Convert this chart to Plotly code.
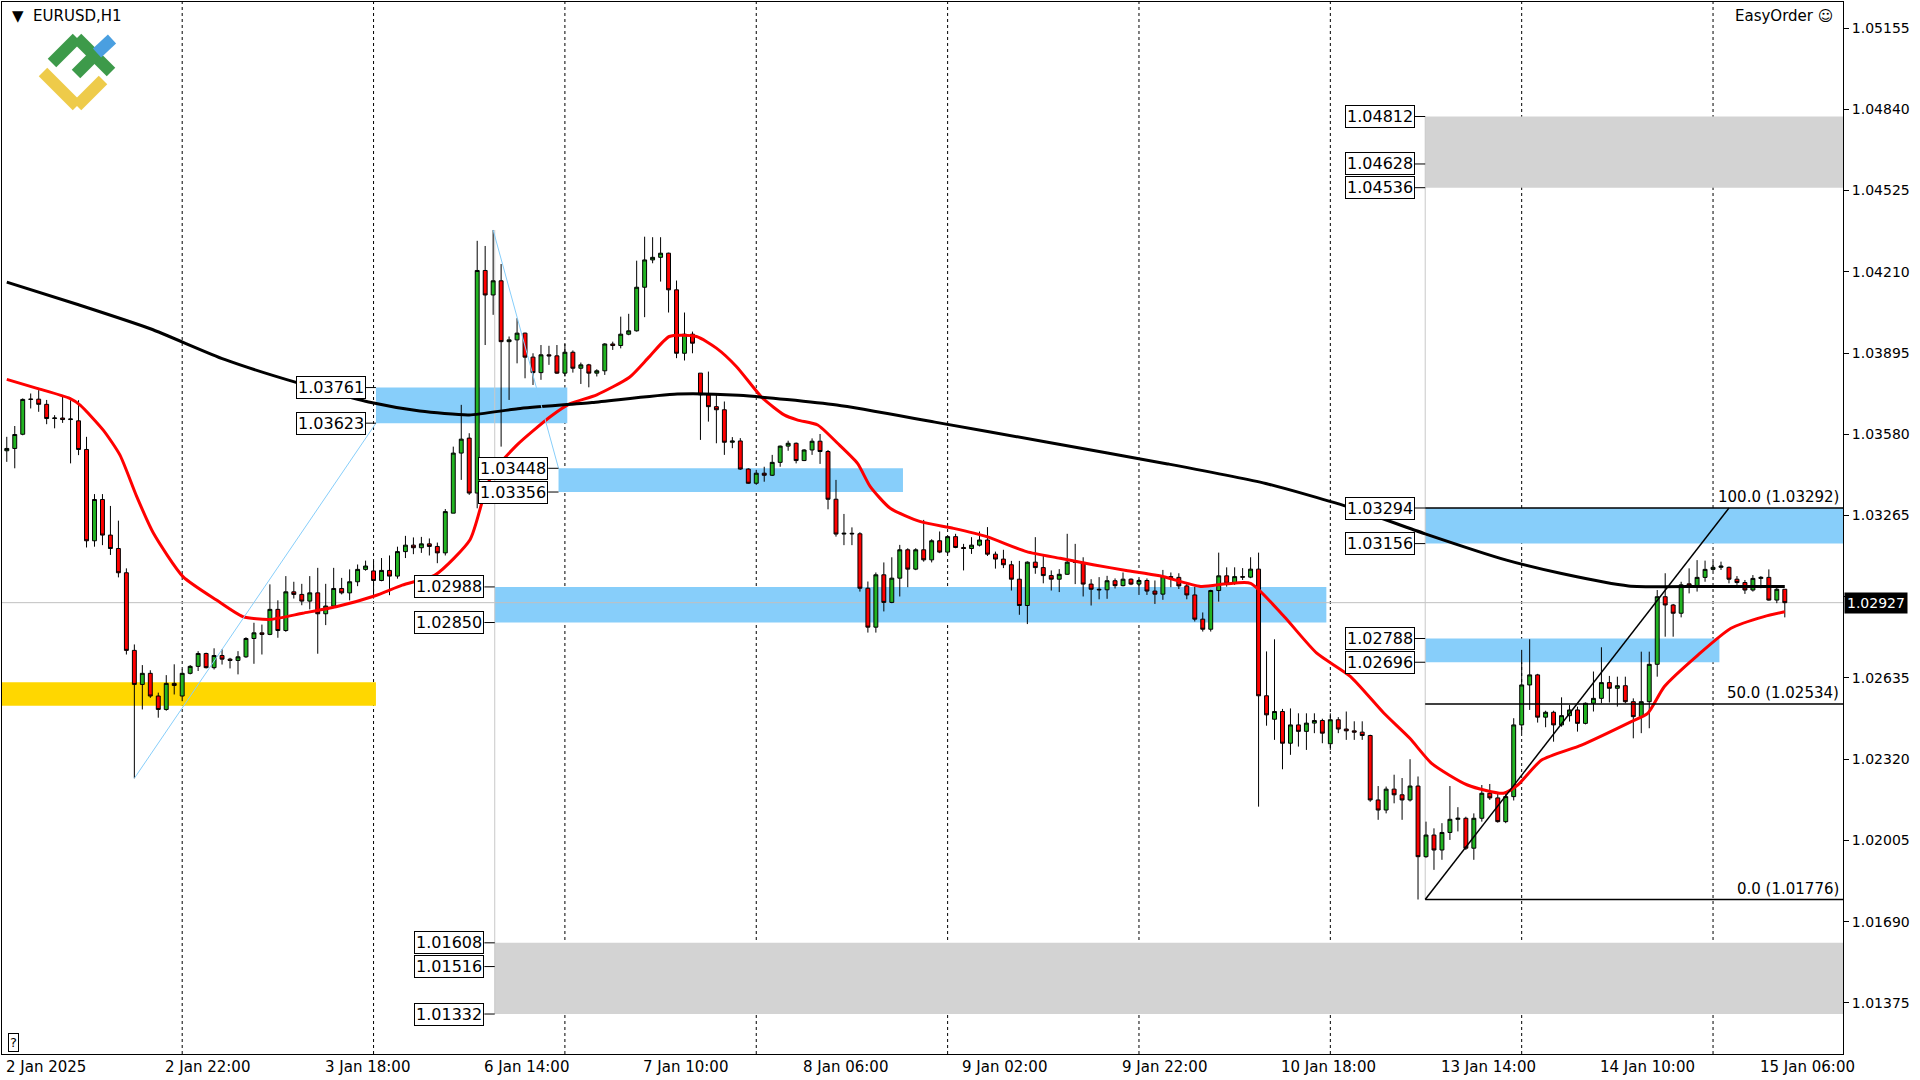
import plotly.graph_objects as go

# ---- candles (EURUSD H1), one row per bar: open, high, low, close
ohlc = [
    (1.03516, 1.03570, 1.03473, 1.03525), (1.03525, 1.03612, 1.03448, 1.03579),
    (1.03580, 1.03719, 1.03576, 1.03715), (1.03715, 1.03738, 1.03680, 1.03716),
    (1.03716, 1.03751, 1.03667, 1.03696), (1.03696, 1.03713, 1.03619, 1.03641),
    (1.03641, 1.03654, 1.03603, 1.03643), (1.03643, 1.03725, 1.03624, 1.03637),
    (1.03637, 1.03712, 1.03467, 1.03639), (1.03632, 1.03712, 1.03499, 1.03521),
    (1.03521, 1.03570, 1.03141, 1.03167), (1.03167, 1.03348, 1.03144, 1.03327),
    (1.03327, 1.03348, 1.03150, 1.03189), (1.03189, 1.03302, 1.03112, 1.03137),
    (1.03137, 1.03245, 1.03025, 1.03043), (1.03043, 1.03060, 1.02726, 1.02742),
    (1.02742, 1.02765, 1.02246, 1.02610), (1.02610, 1.02685, 1.02513, 1.02653),
    (1.02653, 1.02665, 1.02558, 1.02565), (1.02565, 1.02578, 1.02481, 1.02513),
    (1.02513, 1.02646, 1.02508, 1.02614), (1.02614, 1.02688, 1.02571, 1.02606),
    (1.02565, 1.02668, 1.02545, 1.02653), (1.02653, 1.02685, 1.02649, 1.02680),
    (1.02680, 1.02739, 1.02662, 1.02730), (1.02730, 1.02733, 1.02672, 1.02675),
    (1.02675, 1.02750, 1.02668, 1.02722), (1.02722, 1.02746, 1.02687, 1.02708),
    (1.02708, 1.02713, 1.02672, 1.02703), (1.02703, 1.02739, 1.02649, 1.02717),
    (1.02717, 1.02793, 1.02713, 1.02788), (1.02788, 1.02849, 1.02690, 1.02810),
    (1.02810, 1.02842, 1.02726, 1.02804), (1.02804, 1.02998, 1.02801, 1.02901),
    (1.02901, 1.02936, 1.02791, 1.02819), (1.02819, 1.03030, 1.02814, 1.02969),
    (1.02969, 1.03008, 1.02943, 1.02959), (1.02959, 1.03000, 1.02917, 1.02933),
    (1.02933, 1.03030, 1.02901, 1.02965), (1.02965, 1.03062, 1.02729, 1.02884),
    (1.02884, 1.03000, 1.02840, 1.02914), (1.02914, 1.03062, 1.02907, 1.02982),
    (1.02982, 1.03023, 1.02959, 1.02965), (1.02965, 1.03056, 1.02936, 1.03008),
    (1.03008, 1.03075, 1.02991, 1.03056), (1.03056, 1.03090, 1.03051, 1.03069),
    (1.03050, 1.03088, 1.02943, 1.03013), (1.03013, 1.03100, 1.03010, 1.03052),
    (1.03052, 1.03110, 1.02956, 1.03030), (1.03030, 1.03144, 1.03020, 1.03125),
    (1.03125, 1.03186, 1.03100, 1.03150), (1.03150, 1.03180, 1.03115, 1.03140),
    (1.03140, 1.03182, 1.03120, 1.03155), (1.03155, 1.03176, 1.03110, 1.03145),
    (1.03145, 1.03160, 1.03080, 1.03120), (1.03120, 1.03290, 1.03110, 1.03280),
    (1.03274, 1.03532, 1.03274, 1.03507), (1.03507, 1.03694, 1.03403, 1.03561),
    (1.03565, 1.03584, 1.03345, 1.03352), (1.03352, 1.04330, 1.03293, 1.04215),
    (1.04215, 1.04310, 1.03926, 1.04120), (1.04120, 1.04372, 1.04043, 1.04175),
    (1.04175, 1.04240, 1.03532, 1.03939), (1.03939, 1.03959, 1.03713, 1.03946),
    (1.03946, 1.04030, 1.03855, 1.03972), (1.03972, 1.03974, 1.03797, 1.03879),
    (1.03879, 1.03894, 1.03771, 1.03819), (1.03819, 1.03926, 1.03791, 1.03888),
    (1.03888, 1.03923, 1.03849, 1.03884), (1.03884, 1.03926, 1.03814, 1.03817),
    (1.03817, 1.03930, 1.03804, 1.03898), (1.03898, 1.03905, 1.03819, 1.03836),
    (1.03836, 1.03858, 1.03775, 1.03849), (1.03849, 1.03853, 1.03762, 1.03817),
    (1.03817, 1.03832, 1.03804, 1.03826), (1.03826, 1.03933, 1.03810, 1.03930),
    (1.03930, 1.03939, 1.03907, 1.03924), (1.03924, 1.04036, 1.03913, 1.03968),
    (1.03968, 1.04047, 1.03964, 1.03981), (1.03981, 1.04253, 1.03978, 1.04150),
    (1.04150, 1.04346, 1.04034, 1.04256), (1.04256, 1.04344, 1.04243, 1.04266),
    (1.04266, 1.04344, 1.04172, 1.04282), (1.04282, 1.04284, 1.04052, 1.04140),
    (1.04140, 1.04176, 1.03875, 1.03894), (1.03894, 1.04052, 1.03866, 1.03968),
    (1.03968, 1.03978, 1.03894, 1.03933), (1.03817, 1.03817, 1.03558, 1.03733),
    (1.03733, 1.03823, 1.03629, 1.03687), (1.03687, 1.03733, 1.03545, 1.03675),
    (1.03675, 1.03707, 1.03500, 1.03549), (1.03549, 1.03569, 1.03526, 1.03554),
    (1.03554, 1.03565, 1.03442, 1.03445), (1.03445, 1.03448, 1.03388, 1.03390),
    (1.03390, 1.03442, 1.03384, 1.03429), (1.03429, 1.03454, 1.03396, 1.03421),
    (1.03421, 1.03500, 1.03418, 1.03471), (1.03471, 1.03536, 1.03454, 1.03534),
    (1.03534, 1.03555, 1.03516, 1.03545), (1.03545, 1.03548, 1.03467, 1.03478),
    (1.03478, 1.03522, 1.03476, 1.03519), (1.03519, 1.03564, 1.03500, 1.03553),
    (1.03553, 1.03581, 1.03465, 1.03513), (1.03513, 1.03519, 1.03289, 1.03328),
    (1.03328, 1.03403, 1.03183, 1.03193), (1.03193, 1.03271, 1.03150, 1.03196),
    (1.03196, 1.03219, 1.03150, 1.03194), (1.03194, 1.03200, 1.02970, 1.02983),
    (1.02983, 1.03009, 1.02811, 1.02832), (1.02832, 1.03044, 1.02811, 1.03035),
    (1.03035, 1.03083, 1.02893, 1.02928), (1.02928, 1.03103, 1.02925, 1.03022),
    (1.03022, 1.03151, 1.02951, 1.03132), (1.03132, 1.03138, 1.02987, 1.03057),
    (1.03057, 1.03138, 1.03053, 1.03132), (1.03132, 1.03248, 1.03086, 1.03093),
    (1.03093, 1.03173, 1.03083, 1.03167), (1.03167, 1.03203, 1.03119, 1.03123),
    (1.03123, 1.03186, 1.03116, 1.03183), (1.03183, 1.03194, 1.03138, 1.03141),
    (1.03141, 1.03155, 1.03052, 1.03137), (1.03137, 1.03181, 1.03116, 1.03150),
    (1.03150, 1.03203, 1.03145, 1.03170), (1.03170, 1.03220, 1.03108, 1.03115),
    (1.03115, 1.03125, 1.03059, 1.03096), (1.03096, 1.03132, 1.03061, 1.03074),
    (1.03074, 1.03089, 1.02974, 1.03018), (1.03018, 1.03089, 1.02880, 1.02916),
    (1.02916, 1.03087, 1.02844, 1.03084), (1.03084, 1.03181, 1.03039, 1.03063),
    (1.03063, 1.03112, 1.03002, 1.03032), (1.03032, 1.03052, 1.02974, 1.03018),
    (1.03018, 1.03057, 1.02968, 1.03037), (1.03037, 1.03194, 1.03035, 1.03084),
    (1.03084, 1.03155, 1.02999, 1.03083), (1.03083, 1.03103, 1.02951, 1.02999),
    (1.02999, 1.03018, 1.02916, 1.02979), (1.02979, 1.03026, 1.02940, 1.02977),
    (1.02977, 1.03031, 1.02942, 1.03012), (1.03012, 1.03021, 1.02982, 1.02993),
    (1.02993, 1.03044, 1.02990, 1.03018), (1.03018, 1.03021, 1.02995, 1.02999),
    (1.02999, 1.03018, 1.02957, 1.03013), (1.03013, 1.03021, 1.02957, 1.02972),
    (1.02972, 1.03013, 1.02922, 1.02960), (1.02960, 1.03054, 1.02938, 1.03028),
    (1.03028, 1.03044, 1.02987, 1.03025), (1.03025, 1.03041, 1.02980, 1.02992),
    (1.02992, 1.03002, 1.02940, 1.02957), (1.02957, 1.02989, 1.02854, 1.02863),
    (1.02863, 1.02889, 1.02815, 1.02824), (1.02824, 1.02977, 1.02815, 1.02974),
    (1.02974, 1.03121, 1.02931, 1.03031), (1.03031, 1.03064, 1.02989, 1.03002),
    (1.03002, 1.03064, 1.02996, 1.03028), (1.03028, 1.03061, 1.03015, 1.03026),
    (1.03026, 1.03103, 1.03022, 1.03057), (1.03057, 1.03121, 1.02136, 1.02566),
    (1.02566, 1.02738, 1.02450, 1.02492), (1.02475, 1.02785, 1.02395, 1.02505),
    (1.02505, 1.02515, 1.02281, 1.02382), (1.02382, 1.02517, 1.02337, 1.02453),
    (1.02453, 1.02498, 1.02369, 1.02428), (1.02428, 1.02498, 1.02356, 1.02460),
    (1.02460, 1.02498, 1.02421, 1.02470), (1.02470, 1.02477, 1.02382, 1.02421),
    (1.02380, 1.02498, 1.02356, 1.02473), (1.02473, 1.02483, 1.02421, 1.02437),
    (1.02437, 1.02505, 1.02395, 1.02430), (1.02430, 1.02467, 1.02395, 1.02425),
    (1.02425, 1.02467, 1.02395, 1.02412), (1.02412, 1.02415, 1.02155, 1.02162),
    (1.02162, 1.02216, 1.02085, 1.02123), (1.02123, 1.02214, 1.02110, 1.02204),
    (1.02204, 1.02260, 1.02149, 1.02182), (1.02182, 1.02247, 1.02085, 1.02162),
    (1.02162, 1.02320, 1.02156, 1.02216), (1.02216, 1.02253, 1.01776, 1.01942),
    (1.01942, 1.02078, 1.01938, 1.02026), (1.02026, 1.02052, 1.01891, 1.01968),
    (1.01968, 1.02072, 1.01930, 1.02036), (1.02036, 1.02216, 1.02007, 1.02087),
    (1.02087, 1.02134, 1.02040, 1.02091), (1.02091, 1.02097, 1.01968, 1.01975),
    (1.01975, 1.02110, 1.01930, 1.02091), (1.02091, 1.02220, 1.02078, 1.02188),
    (1.02188, 1.02224, 1.02162, 1.02170), (1.02170, 1.02188, 1.02074, 1.02078),
    (1.02078, 1.02195, 1.02072, 1.02175), (1.02175, 1.02479, 1.02160, 1.02453),
    (1.02453, 1.02744, 1.02421, 1.02608), (1.02608, 1.02785, 1.02511, 1.02647),
    (1.02647, 1.02651, 1.02462, 1.02483), (1.02483, 1.02508, 1.02444, 1.02502),
    (1.02502, 1.02508, 1.02388, 1.02453), (1.02453, 1.02560, 1.02446, 1.02489),
    (1.02489, 1.02530, 1.02466, 1.02511), (1.02511, 1.02524, 1.02427, 1.02459),
    (1.02459, 1.02540, 1.02455, 1.02537), (1.02537, 1.02660, 1.02505, 1.02556),
    (1.02556, 1.02754, 1.02537, 1.02617), (1.02617, 1.02643, 1.02540, 1.02595),
    (1.02595, 1.02640, 1.02524, 1.02605), (1.02605, 1.02640, 1.02537, 1.02543),
    (1.02543, 1.02556, 1.02401, 1.02485), (1.02485, 1.02737, 1.02421, 1.02543),
    (1.02543, 1.02737, 1.02440, 1.02688), (1.02688, 1.02976, 1.02640, 1.02950),
    (1.02950, 1.03041, 1.02795, 1.02918), (1.02918, 1.02922, 1.02795, 1.02886),
    (1.02886, 1.03008, 1.02870, 1.02996), (1.03000, 1.03060, 1.02963, 1.02992),
    (1.02992, 1.03092, 1.02970, 1.03025), (1.03025, 1.03090, 1.03008, 1.03056),
    (1.03056, 1.03086, 1.03050, 1.03064), (1.03064, 1.03086, 1.03054, 1.03069),
    (1.03064, 1.03067, 1.03002, 1.03018), (1.03018, 1.03030, 1.02996, 1.03005),
    (1.03005, 1.03015, 1.02961, 1.02976), (1.02976, 1.03034, 1.02970, 1.03021),
    (1.03021, 1.03030, 1.02983, 1.03025), (1.03025, 1.03056, 1.02935, 1.02937),
    (1.02937, 1.02989, 1.02925, 1.02979), (1.02979, 1.02976, 1.02870, 1.02927),
]
opens = [r[0] for r in ohlc]
highs = [max(r) for r in ohlc]
lows = [min(r) for r in ohlc]
closes = [r[3] for r in ohlc]
bars = list(range(len(ohlc)))

# moving averages (bar index, price)
ma_fast_x = [0, 3.8, 7.9, 9.2, 12.1, 14.2, 16.3, 18.4, 22.1, 26.3, 29.6, 33, 37.1, 41.3, 46.1,
             49.6, 53.8, 58.1, 59.7, 60.9, 64, 68.2, 70.6, 74, 78.1, 80.6, 83.1, 86.5, 89, 91.5,
             94.8, 97.5, 99.2, 101.7, 104.2, 106.7, 108.3, 110.8, 114.6, 118.75, 122.9, 127.9,
             132.1, 136.25, 140.4, 144.6, 149.75, 153, 156, 160.2, 164.3, 168.5, 172.7, 176,
             178.7, 183.2, 187.7, 189.5, 192.5, 197.5, 203.75, 205.8, 207.9, 212.1, 216.25,
             220.4, 223]
ma_fast_y = [1.03793, 1.03758, 1.03719, 1.03693, 1.03596, 1.03499, 1.03338, 1.03196, 1.03028,
             1.02937, 1.02873, 1.02862, 1.02886, 1.02911, 1.02953, 1.02995, 1.03036, 1.03171,
             1.03326, 1.03429, 1.03539, 1.03649, 1.03698, 1.03733, 1.03801, 1.03881, 1.03959,
             1.03959, 1.03914, 1.03843, 1.03720, 1.03655, 1.03635, 1.03616, 1.03545, 1.03467,
             1.03377, 1.03293, 1.03241, 1.03215, 1.03183, 1.03125, 1.03099, 1.03074, 1.03052,
             1.03031, 1.02990, 1.03000, 1.03002, 1.02873, 1.02731, 1.02641, 1.02499, 1.02400,
             1.02304, 1.02220, 1.02188, 1.02220, 1.02317, 1.02375, 1.02466, 1.02498, 1.02602,
             1.02724, 1.02828, 1.02873, 1.02892]
ma_slow_x = [0, 8.8, 18, 27.3, 36.5, 45.7, 51.8, 58, 64.1, 73.4, 84.1, 91.8, 104.1, 116.4,
             130.2, 145.6, 157.9, 168.7, 177.9, 188.1, 195, 203.4, 213, 223]
ma_slow_y = [1.04170, 1.04084, 1.03989, 1.03870, 1.03779, 1.03703, 1.03670, 1.03655, 1.03679,
             1.03703, 1.03736, 1.03731, 1.03693, 1.03627, 1.03551, 1.03465, 1.03389, 1.03294,
             1.03194, 1.03092, 1.03040, 1.02992, 1.02990, 1.02990]

# zones: top, bottom, start bar, end bar, colour
zone_top = [1.02618, 1.03761, 1.03448, 1.02988, 1.01608, 1.04812, 1.03294, 1.02788]
zone_bot = [1.02527, 1.03623, 1.03356, 1.02850, 1.01332, 1.04536, 1.03156, 1.02696]
zone_x0 = [-1, 46.3, 69.2, 61.2, 61.2, 177.9, 177.9, 177.9]
zone_x1 = [46.3, 70.3, 112.4, 165.5, 240, 240, 240, 214.8]
zone_col = ["#ffd700", "#87cefa", "#87cefa", "#87cefa", "#d3d3d3", "#d3d3d3", "#87cefa", "#87cefa"]

# price labels next to zones
label_prices = [1.03761, 1.03623, 1.03448, 1.03356, 1.02988, 1.02850, 1.01608, 1.01516, 1.01332,
                1.04812, 1.04628, 1.04536, 1.03294, 1.03156, 1.02788, 1.02696]
label_anchor = [46.3, 46.3, 69.2, 69.2, 61.2, 61.2, 61.2, 61.2, 61.2,
                177.9, 177.9, 177.9, 177.9, 177.9, 177.9, 177.9]

fib_levels = [1.03294, 1.02534, 1.01776]
fib_text = ["100.0 (1.03292)", "50.0 (1.02534)", "0.0 (1.01776)"]

time_tick_bars = [0, 20, 40, 60, 80, 100, 120, 140, 160, 180, 200, 220]
time_tick_text = ["2 Jan 2025", "2 Jan 22:00", "3 Jan 18:00", "6 Jan 14:00", "7 Jan 10:00",
                  "8 Jan 06:00", "9 Jan 02:00", "9 Jan 22:00", "10 Jan 18:00", "13 Jan 14:00",
                  "14 Jan 10:00", "15 Jan 06:00"]
grid_bars = [22, 46, 70, 94, 118, 142, 166, 190, 214]
price_ticks = [1.05155, 1.04840, 1.04525, 1.04210, 1.03895, 1.03580, 1.03265, 1.02950,
               1.02635, 1.02320, 1.02005, 1.01690, 1.01375]
last_price = 1.02927

X_RANGE = [-0.6, 230.3]
Y_RANGE = [1.01177, 1.05256]
W, H = 1920, 1080
ML, MR, MT, MB = 2, 77, 2, 26
FONT = "DejaVu Sans"

fig = go.Figure()

fig.add_trace(go.Candlestick(
    x=bars, open=opens, high=highs, low=lows, close=closes,
    increasing=dict(fillcolor="#22b422", line=dict(color="black", width=1)),
    decreasing=dict(fillcolor="#ff0000", line=dict(color="black", width=1)),
    whiskerwidth=0, hoverinfo="skip", showlegend=False,
))
fig.add_trace(go.Scatter(x=ma_fast_x, y=ma_fast_y, mode="lines", showlegend=False,
                         line=dict(color="#ff0000", width=3, shape="spline", smoothing=0.6),
                         hoverinfo="skip"))
fig.add_trace(go.Scatter(x=ma_slow_x, y=ma_slow_y, mode="lines", showlegend=False,
                         line=dict(color="black", width=3, shape="spline", smoothing=0.6),
                         hoverinfo="skip"))

shapes = []
for t, b, x0, x1, c in zip(zone_top, zone_bot, zone_x0, zone_x1, zone_col):
    shapes.append(dict(type="rect", x0=x0, x1=x1, y0=b, y1=t, fillcolor=c,
                       line=dict(width=0), layer="below"))
for g in grid_bars:
    shapes.append(dict(type="line", x0=g, x1=g, yref="paper", y0=0, y1=1,
                       line=dict(color="black", width=1, dash="3px,3px"), layer="below"))
# current price line
shapes.append(dict(type="line", x0=X_RANGE[0], x1=X_RANGE[1], y0=last_price, y1=last_price,
                   line=dict(color="#c0c0c0", width=1), layer="below"))
# grey vertical anchors
shapes.append(dict(type="line", x0=61.2, x1=61.2, y0=highs[61], y1=zone_bot[4],
                   line=dict(color="#c8c8c8", width=1), layer="below"))
shapes.append(dict(type="line", x0=177.9, x1=177.9, y0=zone_top[5], y1=lows[177],
                   line=dict(color="#c8c8c8", width=1), layer="below"))
# zigzag (light blue)
shapes.append(dict(type="line", x0=16, x1=46.3, y0=lows[16], y1=zone_bot[1],
                   line=dict(color="#87cefa", width=1)))
shapes.append(dict(type="line", x0=61, x1=69.2, y0=highs[61], y1=zone_top[2],
                   line=dict(color="#87cefa", width=1)))
# fibo lines and trend line
for lv in fib_levels:
    shapes.append(dict(type="line", x0=177.9, x1=X_RANGE[1], y0=lv, y1=lv,
                       line=dict(color="black", width=1.5)))
shapes.append(dict(type="line", x0=177.9, x1=216, y0=fib_levels[2], y1=fib_levels[0],
                   line=dict(color="black", width=1.5)))
# label connectors
for p, a in zip(label_prices, label_anchor):
    shapes.append(dict(type="line", x0=a - 1.3, x1=a, y0=p, y1=p,
                       line=dict(color="black", width=1)))


def px(x, y):
    return (x - ML) / (W - ML - MR), 1 - (y - MT) / (H - MT - MB)


# logo
logo = [
    ("#3d9a4a", [(52, 63), (77, 38), (111, 72)]),
    ("#3d9a4a", [(76, 74), (94, 56)]),
    ("#4a9fe0", [(97, 53), (112, 39)]),
    ("#eecb4a", [(43, 72), (77, 106), (103, 80)]),
]
for col, pts in logo:
    for (xa, ya), (xb, yb) in zip(pts[:-1], pts[1:]):
        pa, pb = px(xa, ya), px(xb, yb)
        shapes.append(dict(type="line", xref="paper", yref="paper", x0=pa[0], y0=pa[1],
                           x1=pb[0], y1=pb[1], line=dict(color=col, width=12)))

annotations = []
for p, a in zip(label_prices, label_anchor):
    annotations.append(dict(x=a - 1.3, y=p, xanchor="right", yanchor="middle", showarrow=False,
                            text=f"{p:.5f}", font=dict(family=FONT, size=16, color="black"),
                            bgcolor="white", bordercolor="black", borderwidth=1, borderpad=1))
for lv, tx in zip(fib_levels, fib_text):
    annotations.append(dict(x=X_RANGE[1] - 0.3, y=lv, xanchor="right", yanchor="bottom",
                            showarrow=False, text=tx,
                            font=dict(family=FONT, size=15, color="black")))
for b, tx in zip(time_tick_bars, time_tick_text):
    annotations.append(dict(x=max(b - 0.4, X_RANGE[0]), y=0, yref="paper", xanchor="left",
                            yanchor="top", yshift=-2, showarrow=False, text=tx,
                            font=dict(family=FONT, size=15, color="black")))
annotations.append(dict(x=1, y=last_price, xref="paper", xanchor="left", yanchor="middle",
                        xshift=1, showarrow=False, text="1.02927", bgcolor="black",
                        font=dict(family=FONT, size=14, color="white"), borderpad=2))
tl = px(10, 16)
annotations.append(dict(x=tl[0], y=tl[1], xref="paper", yref="paper", xanchor="left",
                        yanchor="middle", showarrow=False, text="▼  EURUSD,H1",
                        font=dict(family=FONT, size=15, color="black")))
tr = px(1835, 16)
annotations.append(dict(x=tr[0], y=tr[1], xref="paper", yref="paper", xanchor="right",
                        yanchor="middle", showarrow=False, text="EasyOrder ☺",
                        font=dict(family=FONT, size=15, color="black")))
bl = px(8, 1042)
annotations.append(dict(x=bl[0], y=bl[1], xref="paper", yref="paper", xanchor="left",
                        yanchor="middle", showarrow=False, text="?", bordercolor="black",
                        borderwidth=1, bgcolor="white", borderpad=1,
                        font=dict(family=FONT, size=13, color="black")))

# the current-price box covers the tick that sits at the same height
tick_text = ["" if abs(v - last_price) < 0.0005 else f"{v:.5f}" for v in price_ticks]

fig.update_layout(
    width=W, height=H,
    margin=dict(l=ML, r=MR, t=MT, b=MB),
    paper_bgcolor="white", plot_bgcolor="white",
    shapes=shapes, annotations=annotations,
    xaxis=dict(range=X_RANGE, showgrid=False, zeroline=False, showticklabels=False,
               rangeslider=dict(visible=False), showline=True, mirror=True,
               linecolor="black", linewidth=1),
    yaxis=dict(range=Y_RANGE, side="right", showgrid=False, zeroline=False,
               tickvals=price_ticks, ticktext=tick_text,
               ticks="outside", ticklen=5, tickcolor="black",
               tickfont=dict(family=FONT, size=14, color="black"),
               showline=True, mirror=True, linecolor="black", linewidth=1),
)

# drop the default page margin so the 1920x1080 figure fills the window
fig.write_html("out.html", config={"displayModeBar": False},
               post_script="document.body.style.margin='0';"
                           "document.body.style.overflow='hidden';")
